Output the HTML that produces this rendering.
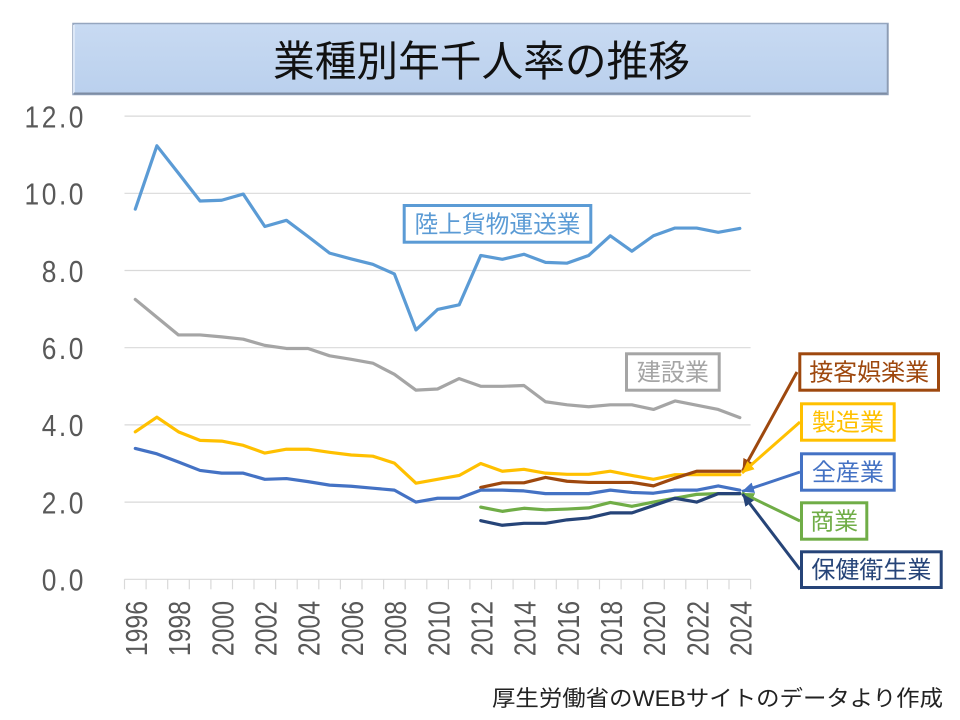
<!DOCTYPE html>
<html>
<head>
<meta charset="utf-8">
<style>
html,body{margin:0;padding:0;background:#fff;}
svg{display:block;}
</style>
</head>
<body>
<svg width="960" height="720" viewBox="0 0 960 720" xmlns="http://www.w3.org/2000/svg">
  <defs>
    <linearGradient id="tg" x1="0" y1="0" x2="0" y2="1">
      <stop offset="0" stop-color="#c8daf2"/>
      <stop offset="1" stop-color="#bad0ed"/>
    </linearGradient>
    <marker id="aBr" markerUnits="userSpaceOnUse" markerWidth="14" markerHeight="12" refX="12" refY="5.5" orient="auto"><path d="M0,0 L12,5.5 L0,11 z" fill="#9e480e"/></marker>
    <marker id="aYe" markerUnits="userSpaceOnUse" markerWidth="14" markerHeight="12" refX="12" refY="5.5" orient="auto"><path d="M0,0 L12,5.5 L0,11 z" fill="#ffc000"/></marker>
    <marker id="aBl" markerUnits="userSpaceOnUse" markerWidth="14" markerHeight="12" refX="12" refY="5.5" orient="auto"><path d="M0,0 L12,5.5 L0,11 z" fill="#4472c4"/></marker>
    <marker id="aGr" markerUnits="userSpaceOnUse" markerWidth="14" markerHeight="12" refX="12" refY="5.5" orient="auto"><path d="M0,0 L12,5.5 L0,11 z" fill="#70ad47"/></marker>
    <marker id="aNv" markerUnits="userSpaceOnUse" markerWidth="14" markerHeight="12" refX="12" refY="5.5" orient="auto"><path d="M0,0 L12,5.5 L0,11 z" fill="#264478"/></marker>
  </defs>

  <!-- Title box -->
  <rect x="73" y="23.5" width="815" height="71" fill="url(#tg)" stroke="#95a6bf" stroke-width="1.5"/>
  <line x1="74" y1="25" x2="74" y2="93" stroke="#dde8f7" stroke-width="2"/>
  <line x1="74" y1="93.5" x2="888" y2="93.5" stroke="#7d8ca3" stroke-width="2"/>
  <line x1="887.5" y1="24" x2="887.5" y2="94" stroke="#8d9cb3" stroke-width="1.5"/>
  <text x="481.5" y="76" text-anchor="middle" font-family="'Liberation Sans','Noto Sans CJK JP',sans-serif" font-size="42" fill="#111" textLength="417" lengthAdjust="spacingAndGlyphs">業種別年千人率の推移</text>

  <!-- Gridlines -->
  <g stroke="#d9d9d9" stroke-width="1.2">
    <line x1="124.5" y1="116.1" x2="750.6" y2="116.1"/>
    <line x1="124.5" y1="193.3" x2="750.6" y2="193.3"/>
    <line x1="124.5" y1="270.5" x2="750.6" y2="270.5"/>
    <line x1="124.5" y1="347.7" x2="750.6" y2="347.7"/>
    <line x1="124.5" y1="424.9" x2="750.6" y2="424.9"/>
    <line x1="124.5" y1="502.1" x2="750.6" y2="502.1"/>
    <line x1="124.5" y1="579.3" x2="750.6" y2="579.3"/>
  </g>
  <!-- ticks -->
  <g stroke="#d9d9d9" stroke-width="1.2">
    <line x1="124.5" y1="579.3" x2="124.5" y2="589.3"/>
    <line x1="146.1" y1="579.3" x2="146.1" y2="589.3"/>
    <line x1="167.7" y1="579.3" x2="167.7" y2="589.3"/>
    <line x1="189.3" y1="579.3" x2="189.3" y2="589.3"/>
    <line x1="210.9" y1="579.3" x2="210.9" y2="589.3"/>
    <line x1="232.5" y1="579.3" x2="232.5" y2="589.3"/>
    <line x1="254.0" y1="579.3" x2="254.0" y2="589.3"/>
    <line x1="275.6" y1="579.3" x2="275.6" y2="589.3"/>
    <line x1="297.2" y1="579.3" x2="297.2" y2="589.3"/>
    <line x1="318.8" y1="579.3" x2="318.8" y2="589.3"/>
    <line x1="340.4" y1="579.3" x2="340.4" y2="589.3"/>
    <line x1="362.0" y1="579.3" x2="362.0" y2="589.3"/>
    <line x1="383.6" y1="579.3" x2="383.6" y2="589.3"/>
    <line x1="405.2" y1="579.3" x2="405.2" y2="589.3"/>
    <line x1="426.8" y1="579.3" x2="426.8" y2="589.3"/>
    <line x1="448.4" y1="579.3" x2="448.4" y2="589.3"/>
    <line x1="469.9" y1="579.3" x2="469.9" y2="589.3"/>
    <line x1="491.5" y1="579.3" x2="491.5" y2="589.3"/>
    <line x1="513.1" y1="579.3" x2="513.1" y2="589.3"/>
    <line x1="534.7" y1="579.3" x2="534.7" y2="589.3"/>
    <line x1="556.3" y1="579.3" x2="556.3" y2="589.3"/>
    <line x1="577.9" y1="579.3" x2="577.9" y2="589.3"/>
    <line x1="599.5" y1="579.3" x2="599.5" y2="589.3"/>
    <line x1="621.1" y1="579.3" x2="621.1" y2="589.3"/>
    <line x1="642.7" y1="579.3" x2="642.7" y2="589.3"/>
    <line x1="664.3" y1="579.3" x2="664.3" y2="589.3"/>
    <line x1="685.8" y1="579.3" x2="685.8" y2="589.3"/>
    <line x1="707.4" y1="579.3" x2="707.4" y2="589.3"/>
    <line x1="729.0" y1="579.3" x2="729.0" y2="589.3"/>
    <line x1="750.6" y1="579.3" x2="750.6" y2="589.3"/>
  </g>

  <!-- Y labels -->
  <g font-family="'Liberation Sans',sans-serif" font-size="31" fill="#595959" text-anchor="end" letter-spacing="3">
    <text transform="translate(86,127.4) scale(0.85,1)">12.0</text>
    <text transform="translate(86,204.6) scale(0.85,1)">10.0</text>
    <text transform="translate(86,281.8) scale(0.85,1)">8.0</text>
    <text transform="translate(86,359.0) scale(0.85,1)">6.0</text>
    <text transform="translate(86,436.2) scale(0.85,1)">4.0</text>
    <text transform="translate(86,513.4) scale(0.85,1)">2.0</text>
    <text transform="translate(86,590.6) scale(0.85,1)">0.0</text>
  </g>

  <!-- X labels -->
  <g font-family="'Liberation Sans',sans-serif" font-size="31" fill="#595959" text-anchor="end">
    <text transform="translate(147.0,601) rotate(-90) scale(0.8,1)">1996</text>
    <text transform="translate(190.2,601) rotate(-90) scale(0.8,1)">1998</text>
    <text transform="translate(233.4,601) rotate(-90) scale(0.8,1)">2000</text>
    <text transform="translate(276.5,601) rotate(-90) scale(0.8,1)">2002</text>
    <text transform="translate(319.7,601) rotate(-90) scale(0.8,1)">2004</text>
    <text transform="translate(362.9,601) rotate(-90) scale(0.8,1)">2006</text>
    <text transform="translate(406.1,601) rotate(-90) scale(0.8,1)">2008</text>
    <text transform="translate(449.3,601) rotate(-90) scale(0.8,1)">2010</text>
    <text transform="translate(492.4,601) rotate(-90) scale(0.8,1)">2012</text>
    <text transform="translate(535.6,601) rotate(-90) scale(0.8,1)">2014</text>
    <text transform="translate(578.8,601) rotate(-90) scale(0.8,1)">2016</text>
    <text transform="translate(622.0,601) rotate(-90) scale(0.8,1)">2018</text>
    <text transform="translate(665.2,601) rotate(-90) scale(0.8,1)">2020</text>
    <text transform="translate(708.3,601) rotate(-90) scale(0.8,1)">2022</text>
    <text transform="translate(751.5,601) rotate(-90) scale(0.8,1)">2024</text>
  </g>

  <!-- Series -->
  <g transform="translate(135.3,579.3) scale(21.59,-38.6)" fill="none" stroke-linejoin="round" stroke-linecap="round">
    <polyline vector-effect="non-scaling-stroke" stroke="#a5a5a5" stroke-width="3.2" points="0,7.25 1,6.79 2,6.33 3,6.33 4,6.28 5,6.22 6,6.06 7,5.98 8,5.98 9,5.79 10,5.70 11,5.60 12,5.31 13,4.90 14,4.93 15,5.20 16,5.00 17,5.00 18,5.02 19,4.60 20,4.52 21,4.47 22,4.52 23,4.52 24,4.40 25,4.62 26,4.51 27,4.40 28,4.19"/>
    <polyline vector-effect="non-scaling-stroke" stroke="#5b9bd5" stroke-width="3.2" points="0,9.59 1,11.23 2,10.52 3,9.80 4,9.82 5,9.98 6,9.14 7,9.30 8,8.88 9,8.45 10,8.30 11,8.16 12,7.91 13,6.46 14,6.99 15,7.11 16,8.39 17,8.29 18,8.42 19,8.21 20,8.19 21,8.39 22,8.90 23,8.50 24,8.90 25,9.10 26,9.10 27,8.99 28,9.09"/>
    <polyline vector-effect="non-scaling-stroke" stroke="#ffc000" stroke-width="3.2" points="0,3.82 1,4.20 2,3.82 3,3.60 4,3.58 5,3.47 6,3.27 7,3.37 8,3.37 9,3.29 10,3.22 11,3.19 12,3.01 13,2.49 14,2.59 15,2.69 16,3.00 17,2.80 18,2.85 19,2.75 20,2.72 21,2.72 22,2.80 23,2.69 24,2.59 25,2.71 26,2.71 27,2.71 28,2.71"/>
    <polyline vector-effect="non-scaling-stroke" stroke="#9e480e" stroke-width="3.2" points="16,2.38 17,2.50 18,2.50 19,2.64 20,2.54 21,2.51 22,2.51 23,2.51 24,2.42 25,2.62 26,2.80 27,2.80 28,2.80"/>
    <polyline vector-effect="non-scaling-stroke" stroke="#4472c4" stroke-width="3.2" points="0,3.39 1,3.25 2,3.04 3,2.82 4,2.75 5,2.75 6,2.59 7,2.61 8,2.53 9,2.44 10,2.41 11,2.36 12,2.31 13,2.00 14,2.10 15,2.10 16,2.31 17,2.31 18,2.29 19,2.22 20,2.22 21,2.22 22,2.31 23,2.25 24,2.23 25,2.31 26,2.31 27,2.42 28,2.31"/>
    <polyline vector-effect="non-scaling-stroke" stroke="#70ad47" stroke-width="3.2" points="16,1.87 17,1.76 18,1.84 19,1.80 20,1.82 21,1.85 22,1.99 23,1.89 24,2.00 25,2.10 26,2.20 27,2.22 28,2.22"/>
    <polyline vector-effect="non-scaling-stroke" stroke="#264478" stroke-width="3.2" points="16,1.52 17,1.40 18,1.45 19,1.45 20,1.54 21,1.59 22,1.72 23,1.72 24,1.91 25,2.10 26,2.00 27,2.22 28,2.22"/>
  </g>

  <!-- Arrows -->
  <g fill="none" stroke-width="3">
    <line x1="797" y1="372" x2="742.5" y2="471" stroke="#9e480e" marker-end="url(#aBr)"/>
    <line x1="800" y1="422" x2="742" y2="473" stroke="#ffc000" marker-end="url(#aYe)"/>
    <line x1="800" y1="472" x2="742" y2="491.5" stroke="#4472c4" marker-end="url(#aBl)"/>
    <line x1="800" y1="521" x2="742" y2="493" stroke="#70ad47" marker-end="url(#aGr)"/>
    <line x1="800" y1="569.5" x2="742.5" y2="494" stroke="#264478" marker-end="url(#aNv)"/>
  </g>

  <!-- Label boxes -->
  <g font-family="'Liberation Sans','Noto Sans CJK JP',sans-serif" font-size="24" text-anchor="middle">
    <rect x="404.2" y="205.5" width="186.6" height="36.7" fill="#fff" stroke="#5b9bd5" stroke-width="3"/>
    <text x="497.5" y="232.5" fill="#5b9bd5" textLength="166" lengthAdjust="spacingAndGlyphs">陸上貨物運送業</text>

    <rect x="626.5" y="353.8" width="92.7" height="36.4" fill="#fff" stroke="#a5a5a5" stroke-width="3"/>
    <text x="672.9" y="380.5" fill="#a5a5a5">建設業</text>

    <rect x="799.8" y="353.8" width="138.7" height="36.4" fill="#fff" stroke="#9e480e" stroke-width="3"/>
    <text x="869.2" y="380.5" fill="#9e480e">接客娯楽業</text>

    <rect x="801.5" y="403.8" width="92.7" height="36.4" fill="#fff" stroke="#ffc000" stroke-width="3"/>
    <text x="847.9" y="430.5" fill="#ffc000">製造業</text>

    <rect x="801.5" y="453.8" width="92.7" height="36.4" fill="#fff" stroke="#4472c4" stroke-width="3"/>
    <text x="847.9" y="480.5" fill="#4472c4">全産業</text>

    <rect x="801.5" y="502.8" width="65.3" height="36.4" fill="#fff" stroke="#70ad47" stroke-width="3"/>
    <text x="834.2" y="529.5" fill="#70ad47">商業</text>

    <rect x="801.5" y="551.8" width="139.7" height="35.7" fill="#fff" stroke="#264478" stroke-width="3"/>
    <text x="871.4" y="578" fill="#264478">保健衛生業</text>
  </g>

  <!-- Footer -->
  <text x="492" y="706" font-family="'Liberation Sans','Noto Sans CJK JP',sans-serif" font-size="22" fill="#222" textLength="451" lengthAdjust="spacingAndGlyphs">厚生労働省のWEBサイトのデータより作成</text>
</svg>
</body>
</html>
